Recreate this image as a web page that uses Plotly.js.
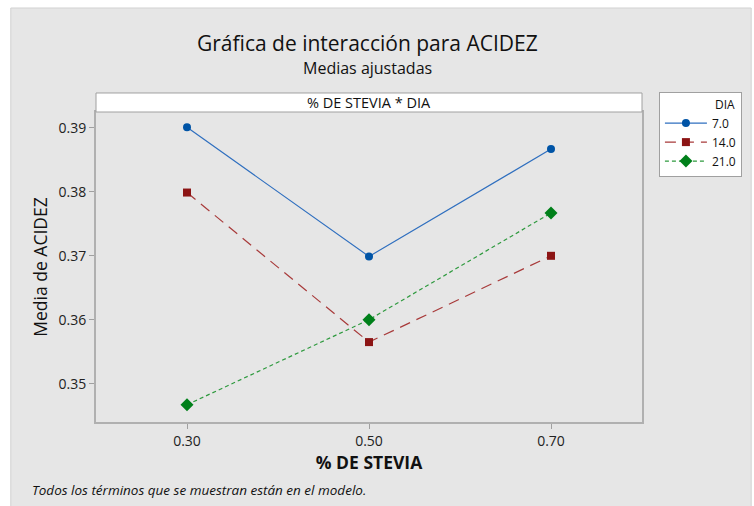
<!DOCTYPE html>
<html>
<head>
<meta charset="utf-8">
<script src="https://cdn.plot.ly/plotly-3.0.1.min.js"></script>
<style>
html,body{margin:0;padding:0;background:#ffffff;}
#chart{width:754px;height:506px;}
</style>
</head>
<body>
<div id="chart"></div>
<script>
var stevia = [0.30, 0.50, 0.70];
var stevialabels = ['0.30', '0.50', '0.70'];
var dia7 = [0.3901, 0.3699, 0.3867];
var dia14 = [0.3799, 0.3565, 0.3700];
var dia21 = [0.3467, 0.3600, 0.3767];
var seriesNames = ['7.0', '14.0', '21.0'];
var yticks = [0.35, 0.36, 0.37, 0.38, 0.39];
var yticklabels = ['0.35', '0.36', '0.37', '0.38', '0.39'];

var fontFam = 'Open Sans, Noto Sans, Liberation Sans, sans-serif';

var traces = [
  {x: stevia, y: dia7, name: seriesNames[0], type: 'scatter', mode: 'lines+markers',
   line: {color: '#2f6fbf', width: 1.2, dash: 'solid'},
   marker: {symbol: 'circle', size: 8, color: '#0054a6'}},
  {x: stevia, y: dia14, name: seriesNames[1], type: 'scatter', mode: 'lines+markers',
   line: {color: '#a83a3a', width: 1.2, dash: '11px,7px'},
   marker: {symbol: 'square', size: 8, color: '#8c1414'}},
  {x: stevia, y: dia21, name: seriesNames[2], type: 'scatter', mode: 'lines+markers',
   line: {color: '#2f9a3f', width: 1.2, dash: '4px,3px'},
   marker: {symbol: 'diamond', size: 10, color: '#00801a'}}
];

var layout = {
  width: 754, height: 506,
  paper_bgcolor: '#ffffff',
  plot_bgcolor: '#ffffff',
  margin: {l: 96, r: 107, t: 112, b: 84, pad: 0},
  showlegend: true,
  font: {family: fontFam, color: '#222222'},
  xaxis: {
    range: [0.2, 0.8], tickvals: stevia, ticktext: stevialabels,
    showgrid: false, zeroline: false,
    showline: true, linecolor: '#b0b0b0', linewidth: 2, mirror: true,
    ticks: 'outside', ticklen: 5, tickcolor: '#a0a0a0',
    tickfont: {size: 14, color: '#222222', family: fontFam},
    title: {text: '% DE STEVIA', font: {size: 17.5, color: '#111111', family: fontFam, weight: 'bold'}, standoff: 7}
  },
  yaxis: {
    range: [0.344, 0.3925], tickvals: yticks, ticktext: yticklabels,
    showgrid: false, zeroline: false,
    showline: true, linecolor: '#b0b0b0', linewidth: 2, mirror: true,
    ticks: 'outside', ticklen: 5, tickcolor: '#a0a0a0',
    tickfont: {size: 14, color: '#222222', family: fontFam},
    title: {text: 'Media de ACIDEZ', font: {size: 17.5, color: '#111111', family: fontFam}, standoff: 6}
  },
  legend: {
    x: 1.031, xanchor: 'left', y: 1.0645, yanchor: 'top',
    bgcolor: '#ffffff', bordercolor: '#a0a0a0', borderwidth: 1,
    font: {size: 12, color: '#111111', family: fontFam},
    title: {text: '                 DIA', font: {size: 12, color: '#111111', family: fontFam}},
    itemwidth: 42, tracegroupgap: 0
  },
  shapes: [
    {type: 'rect', xref: 'paper', yref: 'paper', x0: -0.1561, x1: 1.2, y0: -0.28, y1: 1.3355,
     layer: 'below', fillcolor: '#e6e6e6', line: {color: '#d2d2d2', width: 1}},
    {type: 'rect', xref: 'paper', yref: 'paper', x0: 0, x1: 1, y0: 1, y1: 1.0613,
     fillcolor: '#ffffff', line: {color: '#a0a0a0', width: 1}}
  ],
  annotations: [
    {text: 'Gráfica de interacción para ACIDEZ', xref: 'paper', yref: 'paper',
     x: 0.498, y: 1.222, xanchor: 'center', yanchor: 'middle', showarrow: false,
     font: {size: 21, color: '#111111', family: fontFam}},
    {text: 'Medias ajustadas', xref: 'paper', yref: 'paper',
     x: 0.498, y: 1.142, xanchor: 'center', yanchor: 'middle', showarrow: false,
     font: {size: 16, color: '#111111', family: fontFam}},
    {text: '% DE STEVIA * DIA', xref: 'paper', yref: 'paper',
     x: 0.5, y: 1.0306, xanchor: 'center', yanchor: 'middle', showarrow: false,
     font: {size: 14.5, color: '#111111', family: fontFam}},
    {text: '<i>Todos los términos que se muestran están en el modelo.</i>', xref: 'paper', yref: 'paper',
     x: -0.1216, y: -0.219, xanchor: 'left', yanchor: 'middle', showarrow: false,
     font: {size: 13.5, color: '#111111', family: fontFam}}
  ]
};

Plotly.newPlot('chart', traces, layout, {displayModeBar: false, staticPlot: true});
</script>
</body>
</html>
